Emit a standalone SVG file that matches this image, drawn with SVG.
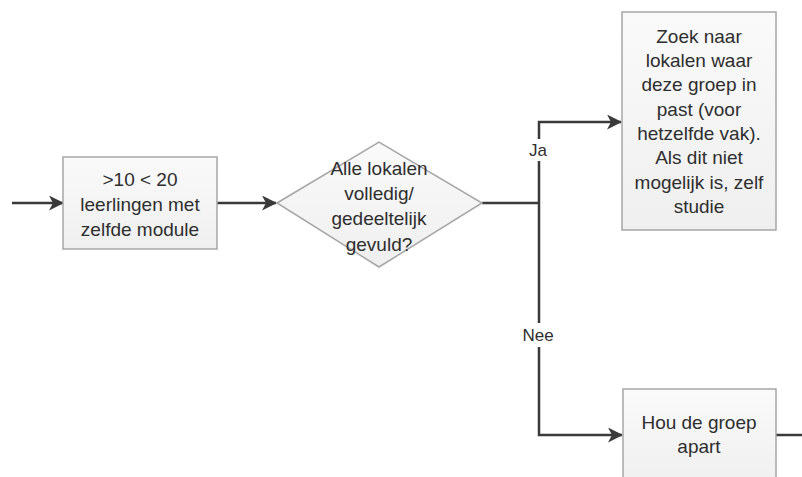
<svg xmlns="http://www.w3.org/2000/svg" width="802" height="477" viewBox="0 0 802 477">
<style>
.box{fill:url(#g);stroke:#a6a6a6;stroke-width:1.5}
.t{font-family:"Liberation Sans",Arial,sans-serif;font-size:19px;fill:#2e2e2e;text-anchor:middle}
.lbl{font-family:"Liberation Sans",Arial,sans-serif;font-size:17px;fill:#2e2e2e;text-anchor:middle}
.c{fill:none;stroke:#3a3a3a;stroke-width:2.5}
</style>
<defs>
<linearGradient id="g" x1="0" y1="0" x2="0" y2="1">
<stop offset="0" stop-color="#fafafa"/>
<stop offset="1" stop-color="#efefef"/>
</linearGradient>
<marker id="a" viewBox="0 0 15 15" refX="14" refY="7.5" markerWidth="15" markerHeight="15" markerUnits="userSpaceOnUse" orient="auto">
<path d="M0,0 L15,7.5 L0,15 L4,7.5 Z" fill="#3a3a3a"/>
</marker>
</defs>
<rect width="802" height="477" fill="#fff"/>
<g id="connectors">
<line class="c" x1="12" y1="203" x2="63" y2="203" marker-end="url(#a)"/>
<line class="c" x1="217" y1="203" x2="276" y2="203" marker-end="url(#a)"/>
<polyline class="c" points="482,203 539,203"/>
<polyline class="c" points="539,203 539,122 621,122" marker-end="url(#a)"/>
<polyline class="c" points="539,203 539,435 622,435" marker-end="url(#a)"/>
<line class="c" x1="776" y1="435" x2="802" y2="435"/>
<rect x="527" y="139" width="22" height="22" fill="#fff"/>
<text class="lbl" x="538" y="156">Ja</text>
<rect x="520" y="323" width="36" height="24" fill="#fff"/>
<text class="lbl" x="538" y="341">Nee</text>
</g>
<g id="node1">
<rect class="box" x="63" y="157" width="154" height="92"/>
<text class="t" x="140" y="186">&gt;10 &lt; 20</text>
<text class="t" x="140" y="211">leerlingen met</text>
<text class="t" x="140" y="236">zelfde module</text>
</g>
<g id="node2">
<polygon class="box" points="277,203 379,142 482,203 379,267"/>
<text class="t" x="379" y="175">Alle lokalen</text>
<text class="t" x="379" y="200">volledig/</text>
<text class="t" x="379" y="225">gedeeltelijk</text>
<text class="t" x="379" y="251">gevuld?</text>
</g>
<g id="node3">
<rect class="box" x="622" y="12" width="154" height="218"/>
<text class="t" x="699" y="43">Zoek naar</text>
<text class="t" x="699" y="67">lokalen waar</text>
<text class="t" x="699" y="91">deze groep in</text>
<text class="t" x="699" y="116">past (voor</text>
<text class="t" x="699" y="140">hetzelfde vak).</text>
<text class="t" x="699" y="164">Als dit niet</text>
<text class="t" x="699" y="189">mogelijk is, zelf</text>
<text class="t" x="699" y="213">studie</text>
</g>
<g id="node4">
<rect class="box" x="623" y="389" width="153" height="100"/>
<text class="t" x="699" y="429">Hou de groep</text>
<text class="t" x="699" y="453">apart</text>
</g>
</svg>
